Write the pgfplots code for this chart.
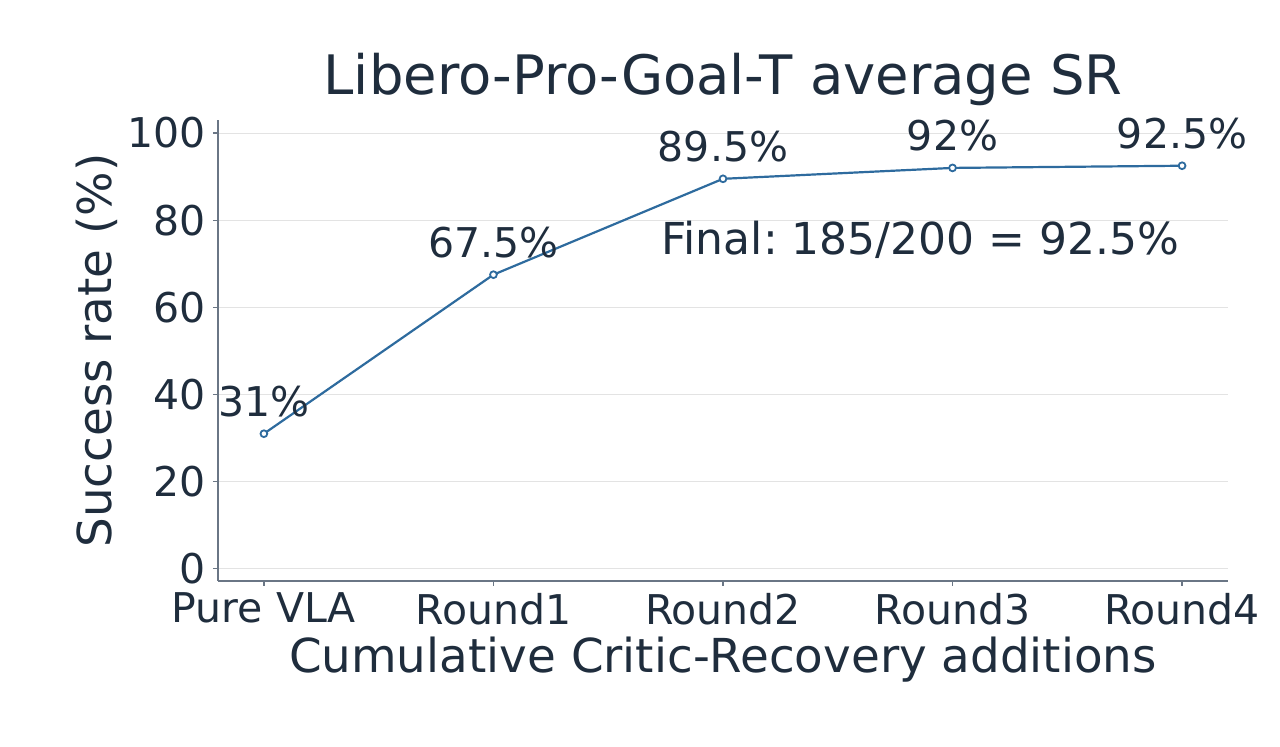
\documentclass[border=0pt]{standalone}
\usepackage{fontspec}
\setmainfont{DejaVu Sans}
\usepackage{pgfplots}
\pgfplotsset{compat=1.18}
\definecolor{txt}{HTML}{1F2D3D}
\definecolor{spine}{HTML}{6A7685}
\definecolor{gridc}{HTML}{E3E3E3}
\definecolor{lineblue}{HTML}{2E6B9E}
\frenchspacing

\begin{document}
\begin{tikzpicture}
\path[use as bounding box] (-109pt,-83pt) rectangle (531pt,290.5pt);
\begin{axis}[
    at={(0,0)}, anchor=south west,
    scale only axis,
    width=505pt, height=230.5pt,
    xmin=-0.2, xmax=4.2,
    ymin=-2.8, ymax=103,
    axis lines*=left,
    axis line style={spine, line width=0.6pt},
    tick align=outside,
    major tick length=2.5pt,
    tick style={spine, line width=0.6pt},
    xtick={0,1,2,3,4},
    xticklabels={Pure VLA, Round1, Round2, Round3, Round4},
    ytick={0,20,40,60,80,100},
    ymajorgrids,
    grid style={gridc, line width=0.5pt},
    /pgf/number format/assume math mode=true,
    tick label style={font=\fontsize{20.5}{24}\selectfont, text=txt},
    title={Libero-Pro-Goal-T average SR},
    title style={font=\fontsize{27.2}{32}\selectfont, text=txt,
        at={(axis description cs:0.5,1)}, anchor=base, yshift=6.5pt},
    xlabel={Cumulative Critic-Recovery additions},
    ylabel={Success rate (\%)},
    label style={font=\fontsize{23.4}{28}\selectfont, text=txt},
    xlabel style={at={(axis description cs:0.5,-0.171)}, anchor=center},
    ylabel style={at={(axis description cs:-0.12,0.5)}, anchor=center, rotate=0},
    clip=false,
]
\addplot[lineblue, line width=1.1pt,
    mark=*, mark size=1.7pt, mark options={fill=white, draw=lineblue, line width=0.9pt},
    point meta=explicit symbolic,
    nodes near coords,
    nodes near coords style={font=\fontsize{20.5}{24}\selectfont, text=txt, anchor=center, yshift=16pt},
] coordinates {
    (0,31) [31\%]
    (1,67.5) [67.5\%]
    (2,89.5) [89.5\%]
    (3,92) [92\%]
    (4,92.5) [92.5\%]
};
\node[font=\fontsize{22}{26}\selectfont, text=txt, anchor=center] at (axis cs:2.86,75.5) {Final: 185/200 = 92.5\%};
\end{axis}
\end{tikzpicture}
\end{document}
